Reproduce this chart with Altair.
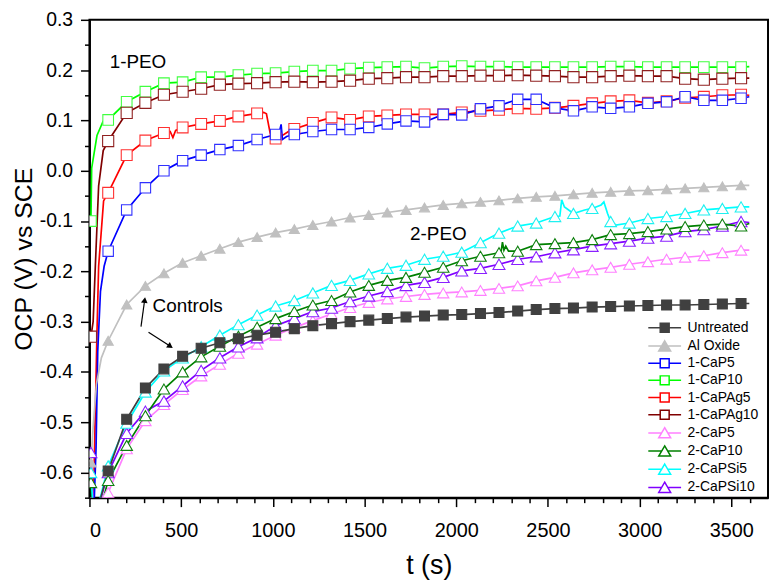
import altair as alt
import pandas as pd

# ---------------- data ----------------
series_names = ["Untreated", "Al Oxide", "1-CaP5", "1-CaP10", "1-CaPAg5", "1-CaPAg10",
                "2-CaP5", "2-CaP10", "2-CaPSi5", "2-CaPSi10"]

# marker times (s)
T = [8, 102, 203, 305, 406, 508, 609, 711, 812, 914, 1015, 1117, 1218, 1320, 1421, 1523,
     1624, 1726, 1827, 1929, 2030, 2132, 2233, 2335, 2436, 2538, 2639, 2741, 2842, 2944,
     3045, 3147, 3248, 3350, 3451, 3553]
T_END = 3598

untreated = [-0.72, -0.597, -0.494, -0.432, -0.394, -0.369, -0.353, -0.342, -0.334, -0.327,
             -0.321, -0.314, -0.308, -0.304, -0.300, -0.297, -0.294, -0.291, -0.289, -0.287,
             -0.286, -0.284, -0.282, -0.279, -0.276, -0.274, -0.273, -0.271, -0.270, -0.269,
             -0.268, -0.267, -0.267, -0.266, -0.265, -0.264]
al_oxide = [-0.58, -0.338, -0.266, -0.229, -0.204, -0.183, -0.169, -0.155, -0.142, -0.132,
            -0.123, -0.116, -0.108, -0.101, -0.093, -0.088, -0.083, -0.078, -0.073, -0.068,
            -0.065, -0.062, -0.059, -0.055, -0.052, -0.050, -0.047, -0.044, -0.042, -0.040,
            -0.039, -0.037, -0.035, -0.033, -0.031, -0.029]
cap5_1 = [-0.80, -0.160, -0.078, -0.034, 0.000, 0.020, 0.031, 0.042, 0.050, 0.062,
          0.072, 0.072, 0.078, 0.082, 0.082, 0.086, 0.093, 0.099, 0.097, 0.112,
          0.111, 0.123, 0.129, 0.142, 0.142, 0.125, 0.119, 0.127, 0.124, 0.127,
          0.134, 0.137, 0.147, 0.140, 0.140, 0.144]
cap10_1 = [-0.100, 0.101, 0.137, 0.157, 0.174, 0.176, 0.186, 0.186, 0.190, 0.193,
           0.194, 0.197, 0.199, 0.199, 0.203, 0.205, 0.206, 0.207, 0.204, 0.207,
           0.208, 0.207, 0.207, 0.206, 0.206, 0.206, 0.206, 0.206, 0.207, 0.207,
           0.206, 0.206, 0.206, 0.206, 0.206, 0.206]
capag5_1 = [-0.70, -0.044, 0.031, 0.060, 0.075, 0.086, 0.093, 0.099, 0.108, 0.114,
            0.064, 0.083, 0.095, 0.106, 0.101, 0.108, 0.110, 0.112, 0.112, 0.112,
            0.116, 0.119, 0.121, 0.124, 0.123, 0.125, 0.129, 0.134, 0.138, 0.140,
            0.135, 0.138, 0.145, 0.147, 0.150, 0.151]
capag10_1 = [-0.330, 0.059, 0.115, 0.135, 0.151, 0.157, 0.163, 0.171, 0.173, 0.174,
             0.176, 0.177, 0.176, 0.177, 0.179, 0.183, 0.184, 0.186, 0.186, 0.188,
             0.188, 0.189, 0.189, 0.190, 0.189, 0.188, 0.186, 0.186, 0.188, 0.189,
             0.188, 0.188, 0.183, 0.181, 0.183, 0.184]
cap5_2 = [-0.66, -0.640, -0.553, -0.497, -0.465, -0.435, -0.408, -0.385, -0.363, -0.345,
          -0.327, -0.312, -0.298, -0.285, -0.272, -0.262, -0.255, -0.250, -0.246, -0.243,
          -0.241, -0.238, -0.234, -0.229, -0.219, -0.212, -0.203, -0.197, -0.192, -0.186,
          -0.181, -0.176, -0.172, -0.169, -0.163, -0.158]
cap10_2 = [-0.62, -0.616, -0.546, -0.487, -0.434, -0.400, -0.370, -0.349, -0.329, -0.311,
           -0.294, -0.280, -0.267, -0.258, -0.241, -0.228, -0.218, -0.212, -0.202, -0.192,
           -0.179, -0.170, -0.163, -0.160, -0.147, -0.145, -0.143, -0.137, -0.127, -0.125,
           -0.121, -0.116, -0.111, -0.108, -0.106, -0.110]
capsi5_2 = [-0.60, -0.587, -0.502, -0.440, -0.398, -0.372, -0.350, -0.327, -0.306, -0.287,
            -0.269, -0.258, -0.243, -0.228, -0.218, -0.205, -0.194, -0.188, -0.176, -0.170,
            -0.162, -0.143, -0.124, -0.110, -0.104, -0.091, -0.085, -0.075, -0.101, -0.104,
            -0.095, -0.091, -0.085, -0.078, -0.075, -0.072]
capsi10_2 = [-0.56, -0.600, -0.522, -0.478, -0.458, -0.428, -0.397, -0.372, -0.350, -0.332,
             -0.308, -0.294, -0.280, -0.273, -0.260, -0.249, -0.240, -0.228, -0.222, -0.212,
             -0.199, -0.194, -0.186, -0.176, -0.171, -0.163, -0.157, -0.150, -0.145, -0.140,
             -0.134, -0.130, -0.121, -0.117, -0.110, -0.101]

marker_values = [untreated, al_oxide, cap5_1, cap10_1, capag5_1, capag10_1,
                 cap5_2, cap10_2, capsi5_2, capsi10_2]

end_values = [-0.264, -0.029, 0.147, 0.207, 0.150, 0.184, -0.158, -0.105, -0.072, -0.103]

# extra line points between markers (start-up transients and noise features)
extra_t = {
    "Al Oxide": [20, 38, 65],
    "1-CaP5": [20, 36, 45, 60, 80, 1035, 1045, 1052, 1075],
    "1-CaP10": [12, 41, 74],
    "1-CaPAg5": [25, 41, 50, 77, 440, 455, 470, 950, 965, 985, 1000, 1060, 1085],
    "1-CaPAg10": [20, 32, 50, 75],
    "2-CaP5": [25],
    "2-CaP10": [25, 2245, 2252, 2260, 2270, 2285],
    "2-CaPSi5": [25, 2565, 2575, 2590, 2700, 2790, 2805, 2825, 2870],
    "2-CaPSi10": [25],
}
extra_v = {
    "Al Oxide": [-0.51, -0.424, -0.372],
    "1-CaP5": [-0.72, -0.55, -0.36, -0.24, -0.19, 0.076, 0.092, 0.062, 0.068],
    "1-CaP10": [0.005, 0.07, 0.098],
    "1-CaPAg5": [-0.60, -0.32, -0.19, -0.06, 0.078, 0.066, 0.080, 0.116, 0.113, 0.075, 0.068, 0.072, 0.078],
    "1-CaPAg10": [-0.30, -0.19, -0.03, 0.04],
    "2-CaP5": [-0.74],
    "2-CaP10": [-0.72, -0.160, -0.142, -0.158, -0.150, -0.160],
    "2-CaPSi5": [-0.70, -0.090, -0.058, -0.072, -0.078, -0.068, -0.062, -0.085, -0.108],
    "2-CaPSi10": [-0.70],
}

ann_labels = ["1-PEO", "2-PEO", "Controls"]
ann_t = [110, 1748, 344]
ann_v = [0.204, -0.137, -0.281]

arrow_t1 = [281, 322]
arrow_v1 = [-0.310, -0.321]
arrow_t2 = [301, 441]
arrow_v2 = [-0.257, -0.349]
arrow_angle = [8, 124]

# ---------------- styles ----------------
line_colors = ["#404040", "#c0c0c0", "#0000ff", "#00ff00", "#ff0000", "#800000",
               "#ff80ff", "#008000", "#00ffff", "#8000ff"]
mk_stroke = ["#404040", "#c0c0c0", "#3030ff", "#40ff40", "#ff3030", "#902020",
             "#ff80ff", "#108010", "#20f0f0", "#8a20ff"]
mk_fill = ["#404040", "#c0c0c0", "white", "white", "white", "white",
           "white", "white", "white", "white"]
mk_shape = ["square", "triangle-up", "square", "square", "square", "square",
            "triangle-up", "triangle-up", "triangle-up", "triangle-up"]
mk_size = [100, 145, 115, 115, 115, 115, 155, 155, 155, 155]
SQ = "M-3.3,0L-0.9,0M0.9,0L3.3,0M-0.9,-0.9L0.9,-0.9L0.9,0.9L-0.9,0.9Z"
TR = "M-3.3,0L-0.6,0M0.6,0L3.3,0M0,-1.05L1.2,1.0L-1.2,1.0Z"
lg_shape = [SQ, TR, SQ, SQ, SQ, SQ, TR, TR, TR, TR]

draw_order = ["1-CaP10", "1-CaPAg10", "1-CaPAg5", "1-CaP5", "2-CaP5", "2-CaPSi10",
              "2-CaP10", "2-CaPSi5", "Al Oxide", "Untreated"]

# ---------------- tables ----------------
line_rows, mk_rows = [], []
for name in draw_order:
    i = series_names.index(name)
    pts = list(zip(T, marker_values[i])) + list(zip(extra_t.get(name, []), extra_v.get(name, [])))
    pts.append((T_END, end_values[i]))
    pts.sort()
    for t, v in pts:
        line_rows.append({"series": name, "t": t, "v": v})
    for t, v in zip(T, marker_values[i]):
        mk_rows.append({"series": name, "t": t, "v": v})
line_df = pd.DataFrame(line_rows)
mk_df = pd.DataFrame(mk_rows)
ann_df = pd.DataFrame({"label": ann_labels, "t": ann_t, "v": ann_v})
arrow_df = pd.DataFrame({"t1": arrow_t1, "v1": arrow_v1, "t2": arrow_t2, "v2": arrow_v2,
                         "ang": arrow_angle})

FONT = "Liberation Sans"
W, H = 683, 481
xs = alt.Scale(domain=[0, 3700], nice=False, zero=False)
ys = alt.Scale(domain=[-0.65, 0.3], nice=False, zero=False)

x_major = alt.Axis(values=[0, 500, 1000, 1500, 2000, 2500, 3000, 3500], format="d",
                   title="t (s)", titleX=W / 2, titleY=76, titleBaseline="alphabetic",
                   titleFontSize=27, labelFontSize=20, tickSize=9, tickWidth=1.5,
                   labelPadding=14, domainWidth=2, grid=False, orient="bottom")
x_minor = alt.Axis(values=[t for t in range(100, 3700, 100) if t % 500], labels=False,
                   tickSize=5, tickWidth=1.5, domain=False, grid=False, title=None,
                   orient="bottom")
y_major = alt.Axis(values=[-0.6, -0.5, -0.4, -0.3, -0.2, -0.1, 0.0, 0.1, 0.2, 0.3],
                   labelExpr="datum.value < 0 ? '-' + format(-datum.value, '.1f') : format(datum.value, '.1f')",
                   title="OCP (V) vs SCE", titleX=-58, titleY=H / 2, titleAngle=270,
                   titleBaseline="alphabetic", titleFontSize=25, labelFontSize=19.5,
                   tickSize=9, tickWidth=1.5, labelPadding=8, domainWidth=2, grid=False,
                   orient="left")
y_minor = alt.Axis(values=[-0.65, -0.55, -0.45, -0.35, -0.25, -0.15, -0.05, 0.05, 0.15, 0.25],
                   labels=False, tickSize=5, tickWidth=1.5, domain=False, grid=False,
                   title=None, orient="left")

lines = alt.Chart(line_df).mark_line(clip=True, strokeWidth=1.7).encode(
    x=alt.X("t:Q", scale=xs, axis=x_major),
    y=alt.Y("v:Q", scale=ys, axis=y_major),
    color=alt.Color("series:N", scale=alt.Scale(domain=series_names, range=line_colors), legend=None),
    order="t:Q",
)

points = alt.Chart(mk_df).mark_point(clip=True, strokeWidth=1.1, opacity=1).encode(
    x=alt.X("t:Q", scale=xs, axis=x_minor),
    y=alt.Y("v:Q", scale=ys, axis=y_minor),
    shape=alt.Shape("series:N", scale=alt.Scale(domain=series_names, range=mk_shape), legend=None),
    fill=alt.Fill("series:N", scale=alt.Scale(domain=series_names, range=mk_fill), legend=None),
    stroke=alt.Stroke("series:N", scale=alt.Scale(domain=series_names, range=mk_stroke), legend=None),
    size=alt.Size("series:N", scale=alt.Scale(domain=series_names, range=mk_size), legend=None),
)

lg = alt.Legend(title=None, orient="none", legendX=572, legendY=303, symbolSize=100,
                symbolStrokeWidth=1.5, labelFontSize=14, labelFont=FONT, labelOffset=16,
                rowPadding=1.3, padding=0, labelColor="black")

legend_layer = alt.Chart(mk_df).transform_filter("false").mark_point(opacity=1, strokeWidth=1.5).encode(
    shape=alt.Shape("series:N", scale=alt.Scale(domain=series_names, range=lg_shape), legend=lg),
    fill=alt.Fill("series:N", scale=alt.Scale(domain=series_names, range=mk_fill), legend=lg),
    stroke=alt.Stroke("series:N", scale=alt.Scale(domain=series_names, range=line_colors), legend=lg),
)

texts = alt.Chart(ann_df).mark_text(align="left", baseline="alphabetic", fontSize=19,
                                    font=FONT, color="black").encode(
    x=alt.X("t:Q", scale=xs, axis=None), y=alt.Y("v:Q", scale=ys, axis=None), text="label:N")

arrows = alt.Chart(arrow_df).mark_rule(color="black", strokeWidth=1.2).encode(
    x=alt.X("t1:Q", scale=xs, axis=None), y=alt.Y("v1:Q", scale=ys, axis=None),
    x2="t2:Q", y2="v2:Q")

heads = alt.Chart(arrow_df).mark_point(shape="triangle-up", filled=True, color="black",
                                       opacity=1, size=45).encode(
    x=alt.X("t2:Q", scale=xs, axis=None), y=alt.Y("v2:Q", scale=ys, axis=None),
    angle=alt.Angle("ang:Q", scale=None))

chart = alt.layer(lines, points, legend_layer, texts, arrows, heads).resolve_scale(
    shape="independent", fill="independent", stroke="independent", size="independent"
).resolve_axis(x="independent", y="independent").properties(
    width=W, height=H,
    autosize=alt.AutoSizeParams(type="none"),
    padding={"left": 82, "top": 10, "right": 2, "bottom": 85},
).configure_view(stroke="black", strokeWidth=2).configure_axis(
    labelFont=FONT, titleFont=FONT, labelColor="black", titleColor="black",
    tickColor="black", domainColor="black", titleFontWeight="normal",
).configure_text(font=FONT)

chart.save("out.html", embed_options={"renderer": "svg", "actions": False})
